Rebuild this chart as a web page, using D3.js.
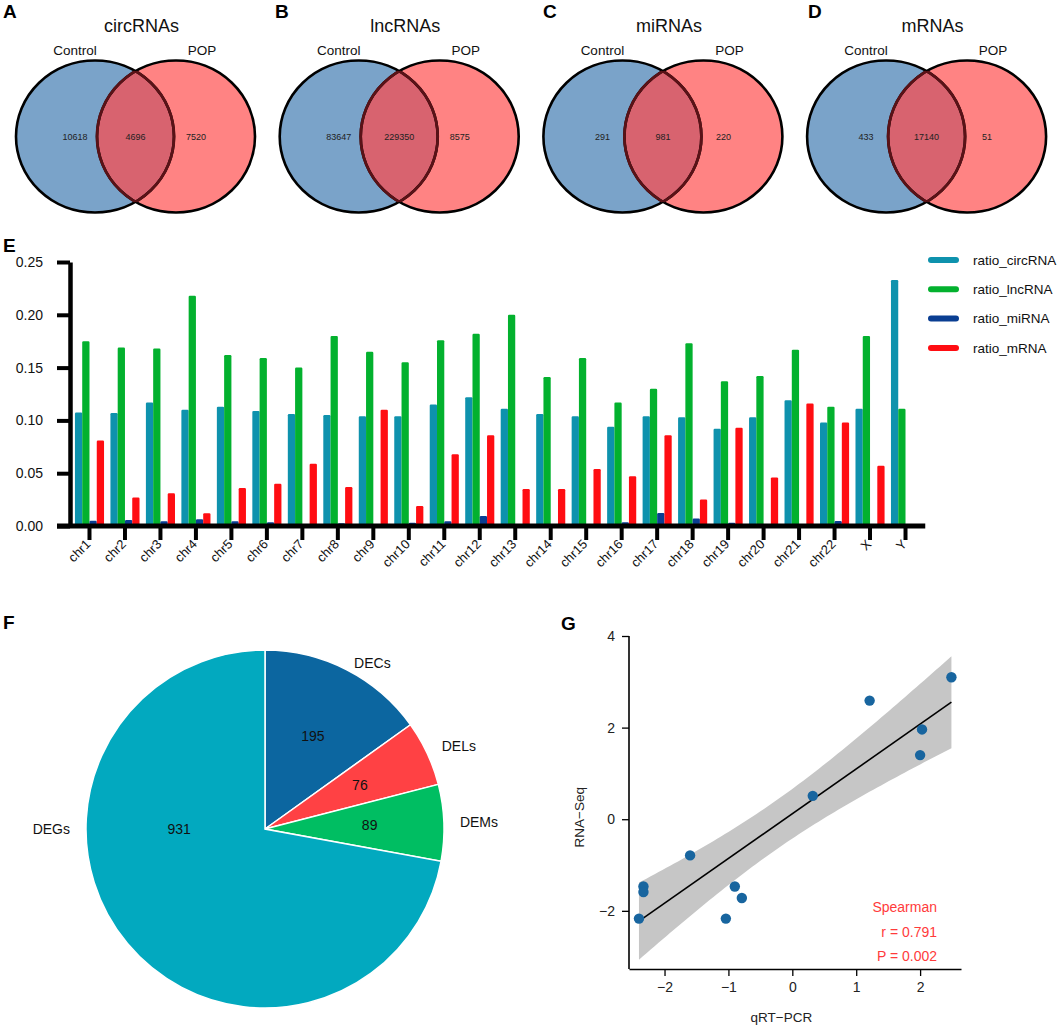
<!DOCTYPE html>
<html><head><meta charset="utf-8">
<script src="https://cdn.jsdelivr.net/npm/d3@7"></script>
<style>
body{margin:0;background:#fff}
svg{display:block;font-family:"Liberation Sans",Arial,Helvetica,sans-serif}
</style>
</head><body>
<svg id="c" width="1059" height="1027"></svg>
<script>
// ---------------- DATA ----------------
const vennTitles = ["circRNAs", "lncRNAs", "miRNAs", "mRNAs"];
const vennSetNames = ["Control", "POP"];
const vennControlOnly = [10618, 83647, 291, 433];
const vennShared = [4696, 229350, 981, 17140];
const vennPopOnly = [7520, 8575, 220, 51];

const chromosomes = ["chr1","chr2","chr3","chr4","chr5","chr6","chr7","chr8","chr9","chr10","chr11","chr12",
  "chr13","chr14","chr15","chr16","chr17","chr18","chr19","chr20","chr21","chr22","X","Y"];
const seriesNames = ["ratio_circRNA", "ratio_lncRNA", "ratio_miRNA", "ratio_mRNA"];
const ratioCirc = [0.1075,0.107,0.117,0.110,0.113,0.109,0.106,0.105,0.104,0.104,0.115,0.122,
  0.111,0.106,0.104,0.094,0.104,0.103,0.092,0.103,0.119,0.098,0.111,0.233];
const ratioLnc = [0.175,0.169,0.168,0.218,0.162,0.159,0.150,0.180,0.165,0.155,0.176,0.182,
  0.200,0.141,0.159,0.117,0.130,0.173,0.137,0.142,0.167,0.113,0.180,0.111];
const ratioMi = [0.005,0.0057,0.0044,0.0063,0.0044,0.0035,0.002,0.0025,0.001,0.003,0.0045,0.0095,
  0,0.0015,0.0015,0.0035,0.0123,0.007,0.003,0.002,0.0015,0.0047,0,0];
const ratioM = [0.081,0.027,0.031,0.012,0.036,0.040,0.059,0.037,0.110,0.019,0.068,0.086,
  0.035,0.035,0.054,0.047,0.086,0.025,0.093,0.046,0.116,0.098,0.057,0];
const yTicksE = [0, 0.05, 0.10, 0.15, 0.20, 0.25];

const pieLabels = ["DECs", "DELs", "DEMs", "DEGs"];
const pieValues = [195, 76, 89, 931];

const qpcr   = [-2.40,-2.33,-2.33,-1.60,-1.04,-0.90,-0.79,0.32,1.21,2.00,2.03,2.49];
const rnaseq = [-2.17,-1.47,-1.59,-0.79,-2.17,-1.47,-1.72,0.51,2.59,1.40,1.96,3.10];
const xTicksG = [-2, -1, 0, 1, 2];
const yTicksG = [-2, 0, 2, 4];
const statLines = ["Spearman", "r = 0.791", "P = 0.002"];

// ---------------- DRAW ----------------
const svg = d3.select("#c");
svg.append("rect").attr("width",1059).attr("height",1027).attr("fill","#fff");
const defs = svg.append("defs");

function letter(t, x, y){
  svg.append("text").attr("x",x).attr("y",y).attr("font-size",19).attr("font-weight","bold").text(t);
}

// ---- Venn diagrams A-D ----
const vennLetters = ["A","B","C","D"];
vennTitles.forEach((title, i) => {
  const cxL = 95 + i * 263.7, cxR = cxL + 81, cy = 136.5, rx = 79, ry = 76;
  const g = svg.append("g");
  defs.append("clipPath").attr("id","vl"+i).append("ellipse")
    .attr("cx",cxL).attr("cy",cy).attr("rx",rx).attr("ry",ry);
  defs.append("clipPath").attr("id","vr"+i).append("ellipse")
    .attr("cx",cxR).attr("cy",cy).attr("rx",rx).attr("ry",ry);
  const ell = cx => g.append("ellipse").attr("cx",cx).attr("cy",cy).attr("rx",rx).attr("ry",ry);
  ell(cxL).attr("fill","#7AA3C9");
  ell(cxR).attr("fill","#FF8383");
  ell(cxR).attr("fill","#D8636F").attr("clip-path",`url(#vl${i})`);
  ell(cxL).attr("fill","none").attr("stroke","#000").attr("stroke-width",2.6);
  ell(cxR).attr("fill","none").attr("stroke","#000").attr("stroke-width",2.6);
  ell(cxL).attr("fill","none").attr("stroke","#5A1217").attr("stroke-width",2.8).attr("clip-path",`url(#vr${i})`);
  ell(cxR).attr("fill","none").attr("stroke","#5A1217").attr("stroke-width",2.8).attr("clip-path",`url(#vl${i})`);

  g.append("text").attr("x",(cxL+cxR)/2 + 6).attr("y",32).attr("text-anchor","middle")
    .attr("font-size",18).attr("fill","#111").text(title);
  g.append("text").attr("x",cxL-20).attr("y",55).attr("text-anchor","middle")
    .attr("font-size",13.5).attr("fill","#111").text(vennSetNames[0]);
  g.append("text").attr("x",cxR+26).attr("y",55).attr("text-anchor","middle")
    .attr("font-size",13.5).attr("fill","#111").text(vennSetNames[1]);
  const nums = [[cxL-20, vennControlOnly[i]], [(cxL+cxR)/2, vennShared[i]], [cxR+20, vennPopOnly[i]]];
  nums.forEach(([x,v]) => g.append("text").attr("x",x).attr("y",cy).attr("dy","0.35em")
    .attr("text-anchor","middle").attr("font-size",9).attr("fill","#222").text(v));
  letter(vennLetters[i], [3, 275, 543, 808][i], 18);
});

// ---- Bar chart E ----
letter("E", 3, 252);
const colorsE = ["#0E92AD", "#03B12E", "#0A3E92", "#FF0D12"];
const seriesData = [ratioCirc, ratioLnc, ratioMi, ratioM];
const yE = d3.scaleLinear().domain([0, 0.25]).range([526, 262]);
const x0 = d3.scaleBand().domain(chromosomes).range([71.75, 923.25]).paddingInner(0.18).paddingOuter(0.09);
const x1 = d3.scaleBand().domain(seriesNames).range([0, x0.bandwidth()]);
const gE = svg.append("g");
chromosomes.forEach((c, ci) => {
  seriesNames.forEach((s, si) => {
    const v = seriesData[si][ci];
    if (v <= 0) return;
    gE.append("rect").attr("x", x0(c) + x1(s)).attr("y", yE(v))
      .attr("width", x1.bandwidth()).attr("height", yE(0) - yE(v) + 2)
      .attr("rx", 1.2).attr("fill", colorsE[si]);
  });
});
// y axis
const yAxisX = 70;
const yAx = svg.append("g").attr("transform",`translate(${yAxisX},0)`)
  .call(d3.axisLeft(yE).tickValues(yTicksE).tickFormat(d3.format(".2f")).tickSize(13).tickSizeOuter(0).tickPadding(14));
yAx.select(".domain").attr("stroke","#000").attr("stroke-width",4.5);
yAx.selectAll(".tick line").attr("stroke","#000").attr("stroke-width",4);
yAx.selectAll(".tick text").attr("font-size",14).attr("fill","#111").attr("font-family","Liberation Sans, Arial, sans-serif");
// x axis
const xAx = svg.append("g").attr("transform",`translate(0,${yE(0)})`)
  .call(d3.axisBottom(x0).tickSize(14).tickSizeOuter(0).tickFormat(""));
xAx.select(".domain").remove();
xAx.selectAll(".tick line").attr("stroke","#000").attr("stroke-width",4);
svg.append("line").attr("x1", yAxisX - 13).attr("x2", x0.range()[1] + 2)
  .attr("y1", yE(0)).attr("y2", yE(0)).attr("stroke","#000").attr("stroke-width",5);
chromosomes.forEach(c => {
  const x = x0(c) + x0.bandwidth()/2 + 2;
  svg.append("text").attr("transform",`translate(${x},${yE(0)+19}) rotate(-45)`)
    .attr("text-anchor","end").attr("font-size",13).attr("fill","#111").text(c);
});
// legend
seriesNames.forEach((s, i) => {
  const y = 260 + i * 29.3;
  svg.append("line").attr("x1",931).attr("x2",956).attr("y1",y).attr("y2",y)
    .attr("stroke",colorsE[i]).attr("stroke-width",6).attr("stroke-linecap","round");
  svg.append("text").attr("x",973).attr("y",y).attr("dy","0.35em").attr("font-size",13.5)
    .attr("fill","#111").text(s);
});

// ---- Pie F ----
letter("F", 3, 629);
const pieColors = ["#0C66A0", "#FF4144", "#00BE62", "#02A9BF"];
const pcx = 265, pcy = 829, pr = 179;
const pie = d3.pie().sort(null).value(d => d)(pieValues);
const arc = d3.arc().innerRadius(0).outerRadius(pr);
const gF = svg.append("g").attr("transform",`translate(${pcx},${pcy})`);
gF.selectAll("path").data(pie).join("path").attr("d",arc)
  .attr("fill",(d,i)=>pieColors[i]).attr("stroke","#fff").attr("stroke-width",1.5);
pie.forEach((d, i) => {
  const span = d.endAngle - d.startAngle;
  const a = span > Math.PI ? 1.5 * Math.PI : (d.startAngle + d.endAngle) / 2;
  const rIn = span > Math.PI ? pr * 0.48 : pr * 0.585;
  gF.append("text").attr("x", rIn * Math.sin(a)).attr("y", -rIn * Math.cos(a)).attr("dy","0.35em")
    .attr("text-anchor","middle").attr("font-size",14).attr("fill","#111").text(pieValues[i]);
  const rOut = pr + 16;
  const sx = Math.sin(a);
  gF.append("text").attr("x", rOut * sx).attr("y", -rOut * Math.cos(a) + (sx > 0.3 && Math.cos(a) > 0.5 ? 8 : 0))
    .attr("dy","0.35em").attr("text-anchor", sx >= 0 ? "start" : "end")
    .attr("font-size",14).attr("fill","#111").text(pieLabels[i]);
});

// ---- Scatter G ----
letter("G", 561, 630);
const xG = d3.scaleLinear().domain([-2.556, 2.64]).range([629, 961]);
const yG = d3.scaleLinear().domain([-3.27, 4]).range([969, 636]);
const n = qpcr.length;
const mx = d3.mean(qpcr), my = d3.mean(rnaseq);
const sxx = d3.sum(qpcr, x => (x - mx) ** 2);
const sxy = d3.sum(qpcr.map((x, i) => (x - mx) * (rnaseq[i] - my)));
const slope = sxy / sxx, icpt = my - slope * mx;
const sse = d3.sum(qpcr.map((x, i) => (rnaseq[i] - (icpt + slope * x)) ** 2));
const sres = Math.sqrt(sse / (n - 2));
const tcrit = 2.228; // t(0.975, df = 10)
const xmin = d3.min(qpcr), xmax = d3.max(qpcr);
const band = d3.range(0, 81).map(k => {
  const x = xmin + (xmax - xmin) * k / 80;
  const f = icpt + slope * x;
  const se = sres * Math.sqrt(1 / n + (x - mx) ** 2 / sxx);
  return {x, lo: f - tcrit * se, hi: f + tcrit * se, f};
});
const gG = svg.append("g");
gG.append("path").datum(band)
  .attr("d", d3.area().x(d => xG(d.x)).y0(d => yG(d.lo)).y1(d => yG(d.hi)))
  .attr("fill", "#C6C6C6");
gG.append("line").attr("x1", xG(xmin)).attr("x2", xG(xmax))
  .attr("y1", yG(icpt + slope * xmin)).attr("y2", yG(icpt + slope * xmax))
  .attr("stroke", "#000").attr("stroke-width", 1.6);
gG.selectAll("circle").data(qpcr).join("circle")
  .attr("cx", d => xG(d)).attr("cy", (d, i) => yG(rnaseq[i])).attr("r", 5.2)
  .attr("fill", "#18659F");
// axes
const gx = svg.append("g").attr("transform",`translate(0,969)`)
  .call(d3.axisBottom(xG).tickValues(xTicksG).tickSize(7).tickSizeOuter(0).tickPadding(6)
    .tickFormat(d => d3.format("d")(d)));
gx.select(".domain").attr("stroke","#000").attr("stroke-width",1.6);
gx.selectAll(".tick line").attr("stroke","#000").attr("stroke-width",1.3);
gx.selectAll(".tick text").attr("font-size",14).attr("fill","#222").attr("font-family","Liberation Sans, Arial, sans-serif");
const gy = svg.append("g").attr("transform",`translate(629,0)`)
  .call(d3.axisLeft(yG).tickValues(yTicksG).tickSize(7).tickSizeOuter(0).tickPadding(7)
    .tickFormat(d => d3.format("d")(d)));
gy.select(".domain").attr("d", `M0,${yG(4)}V969`).attr("stroke","#000").attr("stroke-width",1.6);
gy.selectAll(".tick line").attr("stroke","#000").attr("stroke-width",1.3);
gy.selectAll(".tick text").attr("font-size",14).attr("fill","#222").attr("font-family","Liberation Sans, Arial, sans-serif");
svg.append("text").attr("x", xG(0) - 11).attr("y", 1022).attr("text-anchor","middle")
  .attr("font-size",13.5).attr("fill","#222").text("qRT\u2212PCR");
svg.append("text").attr("transform",`translate(584,${yG(0) - 2}) rotate(-90)`).attr("text-anchor","middle")
  .attr("font-size",13.5).attr("fill","#222").text("RNA\u2212Seq");
statLines.forEach((t, i) => {
  svg.append("text").attr("x", 937).attr("y", 912 + i * 24.5).attr("text-anchor","end")
    .attr("font-size",14).attr("fill","#FF3B3B").text(t);
});
</script>
</body></html>
